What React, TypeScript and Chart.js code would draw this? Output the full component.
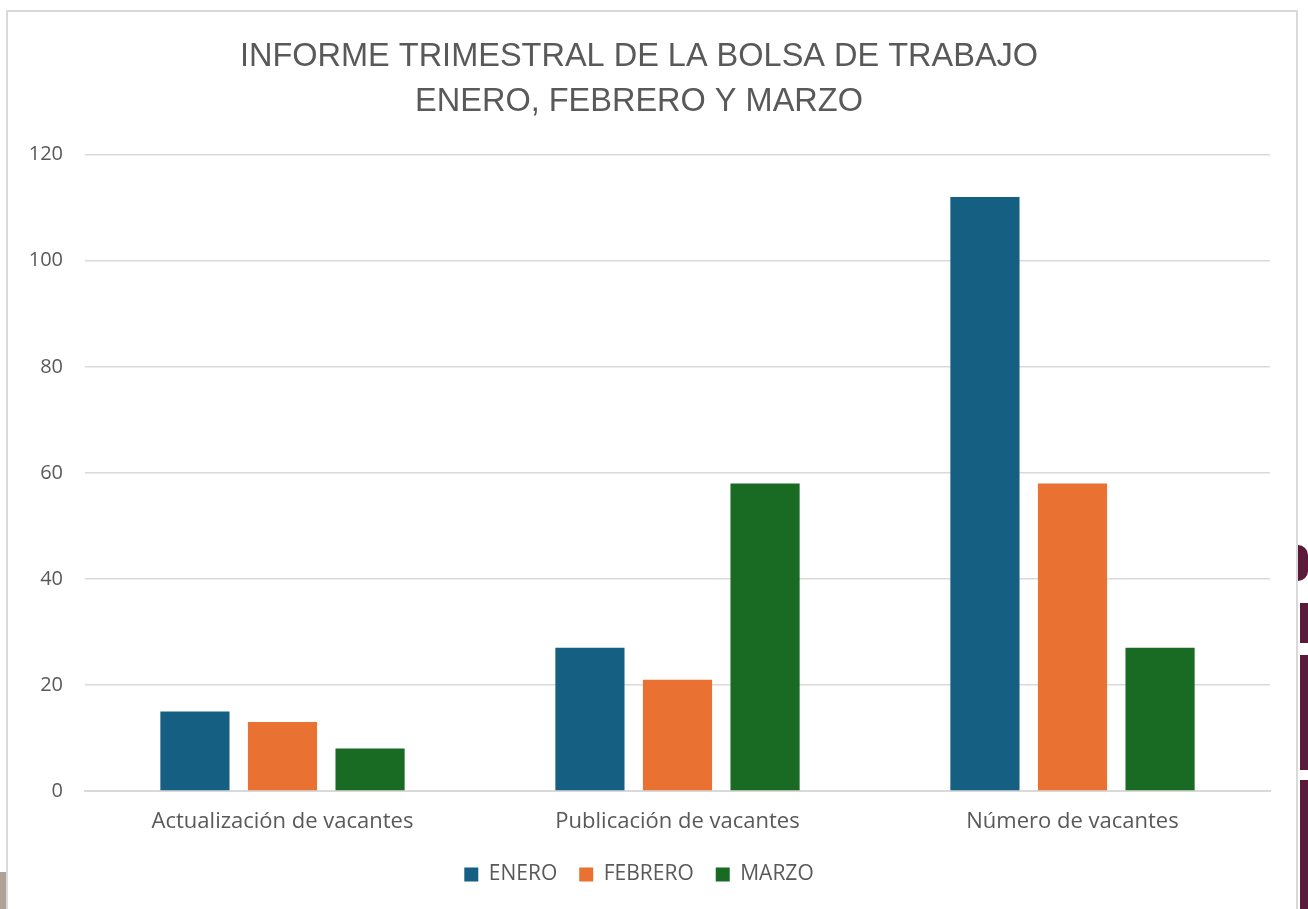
import React, { useEffect, useRef } from "react";
import { Chart, registerables } from "chart.js";

Chart.register(...registerables);

const categories = ["Actualización de vacantes", "Publicación de vacantes", "Número de vacantes"];
const seriesNames = ["ENERO", "FEBRERO", "MARZO"];
const enero = [15, 27, 112];
const febrero = [13, 21, 58];
const marzo = [8, 58, 27];
const colors = ["#156082", "#E97132", "#196B24"];
const yTicks = [0, 20, 40, 60, 80, 100, 120];

export default function App() {
  const ref = useRef<HTMLCanvasElement | null>(null);
  useEffect(() => {
    if (!ref.current) return;
    const values = [enero, febrero, marzo];
    const chart = new Chart(ref.current, {
      type: "bar",
      data: {
        labels: categories,
        datasets: seriesNames.map((n, i) => ({
          label: n,
          data: values[i],
          backgroundColor: colors[i],
          categoryPercentage: 0.665,
          barPercentage: 0.79,
        })),
      },
      options: {
        animation: false,
        responsive: false,
        layout: { padding: { left: 0, right: 26, top: 0, bottom: 14 } },
        plugins: {
          title: {
            display: true,
            text: ["INFORME TRIMESTRAL DE LA BOLSA DE TRABAJO", "ENERO, FEBRERO Y MARZO"],
            color: "#595959",
            font: { family: "'Liberation Sans', Arial", size: 32.5, weight: "normal", lineHeight: 1.38 },
            padding: { top: 23, bottom: 30 },
          },
          legend: {
            position: "bottom",
            labels: {
              color: "#595959",
              font: { family: "'Open Sans'", size: 21 },
              boxWidth: 14,
              boxHeight: 14,
              padding: 22,
            },
          },
          tooltip: { enabled: false },
        },
        scales: {
          x: {
            grid: { display: false, drawTicks: false },
            border: { color: "#d9d9d9", width: 2 },
            ticks: { color: "#595959", font: { family: "'Open Sans'", size: 22 }, padding: 18 },
            afterFit: (axis: any) => {
              axis.height = 51;
            },
          },
          y: {
            min: 0,
            max: 120,
            afterBuildTicks: (axis: any) => {
              axis.ticks = yTicks.map((v) => ({ value: v }));
            },
            afterFit: (axis: any) => {
              axis.width = 77;
            },
            grid: { color: "#d9d9d9", lineWidth: 1.5, drawTicks: false },
            border: { display: false },
            ticks: { color: "#595959", font: { family: "'Open Sans'", size: 20 }, padding: 22 },
          },
        },
      },
    });
    return () => chart.destroy();
  }, []);
  return (
    <div style={{ position: "fixed", left: 0, top: 0, width: 1308, height: 909, background: "#fff", overflow: "hidden" }}>
      <div style={{ position: "absolute", left: 0, top: 872, width: 6, height: 40, background: "#b0a196" }} />
      <div style={{ position: "absolute", left: 1298, top: 545, width: 10, height: 36, borderRadius: "0 18px 18px 0", background: "#5c1a3a" }} />
      <div style={{ position: "absolute", left: 1300, top: 603, width: 8, height: 40, background: "#5c1a3a" }} />
      <div style={{ position: "absolute", left: 1300, top: 655, width: 8, height: 115, background: "#5c1a3a" }} />
      <div style={{ position: "absolute", left: 1300, top: 780, width: 8, height: 129, background: "#5c1a3a" }} />
      <div style={{ position: "absolute", left: 6, top: 10, width: 1292, height: 920, border: "2px solid #d9d9d9", boxSizing: "border-box", background: "#fff" }}>
        <canvas ref={ref} width={1288} height={897} style={{ display: "block" }} />
      </div>
    </div>
  );
}
